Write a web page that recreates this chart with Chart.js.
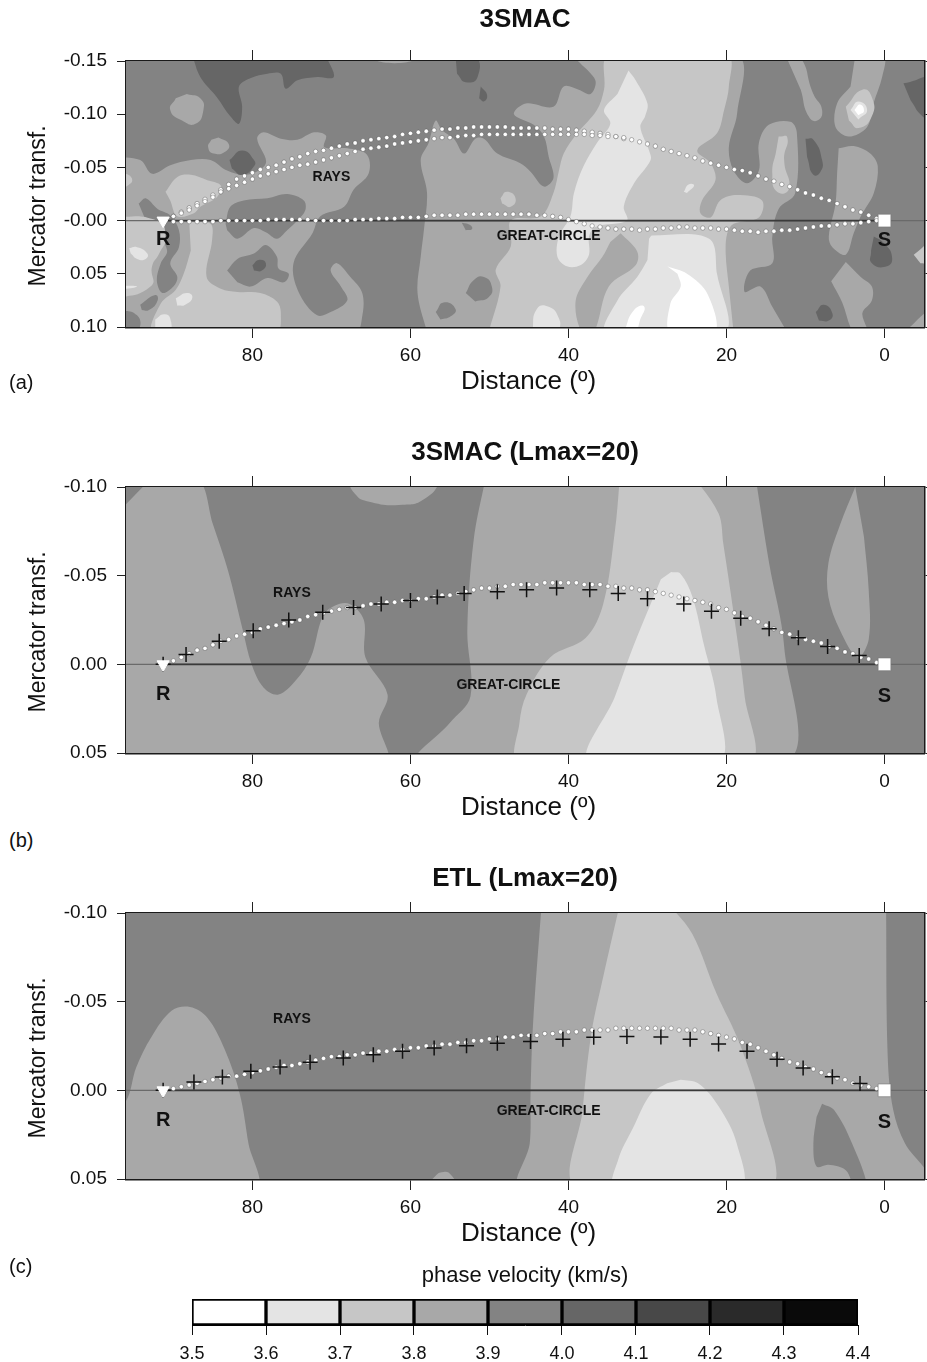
<!DOCTYPE html>
<html>
<head>
<meta charset="utf-8">
<title>phase velocity maps</title>
<script src="https://cdn.jsdelivr.net/npm/chart.js@4"></script>
<style>
  html, body { margin: 0; padding: 0; background: #fff; }
  #page { position: relative; width: 927px; height: 1362px; overflow: hidden; }
  canvas { position: absolute; left: 0; }
  .tag { position: absolute; left: 9px; font: 20px "Liberation Sans", sans-serif; color: #111; }
</style>
</head>
<body>
<div id="page">
  <canvas id="panelA" width="927" height="401" style="top:0"></canvas>
  <canvas id="panelB" width="927" height="401" style="top:426px"></canvas>
  <canvas id="panelC" width="927" height="401" style="top:852px"></canvas>
  <canvas id="colorBar" width="927" height="100" style="top:1262px"></canvas>
  <div class="tag" style="top:371px">(a)</div>
  <div class="tag" style="top:829px">(b)</div>
  <div class="tag" style="top:1255px">(c)</div>
</div>
<script>
// velocity classes of the colour bar
const bandEdges = [3.5, 3.6, 3.7, 3.8, 3.9, 4.0, 4.1, 4.2, 4.3, 4.4];
const bandColors = ['#ffffff', '#e4e4e4', '#c6c6c6', '#a8a8a8', '#838383', '#666666', '#484848', '#2a2a2a', '#0a0a0a'];
const v36 = bandColors[0], v37 = bandColors[1], v38 = bandColors[2], v39 = bandColors[3], v40 = bandColors[4], v41 = bandColors[5];

const xTicks = [80, 60, 40, 20, 0];
const yTicksA = [-0.15, -0.10, -0.05, 0, 0.05, 0.10];
const yLabelsA = ['-0.15', '-0.10', '-0.05', '-0.00', '0.05', '0.10'];
const yTicksB = [-0.10, -0.05, 0, 0.05];
const yLabelsB = ['-0.10', '-0.05', '0.00', '0.05'];

// distance of the ray samples, degrees
const rayDist = [91,90,89,88,87,86,85,84,83,82,81,80,79,78,77,76,75,74,73,72,71,70,69,68,67,66,65,64,63,62,61,60,59,58,57,56,55,54,53,52,51,50,49,48,47,46,45,44,43,42,41,40,39,38,37,36,35,34,33,32,31,30,29,28,27,26,25,24,23,22,21,20,19,18,17,16,15,14,13,12,11,10,9,8,7,6,5,4,3,2,1];

const rayA1 = [0,-.004,-.008,-.012,-.016,-.020,-.024,-.029,-.034,-.039,-.042,-.045,-.048,-.050,-.052,-.055,-.058,-.060,-.063,-.065,-.066,-.068,-.070,-.072,-.073,-.075,-.076,-.077,-.078,-.079,-.081,-.082,-.083,-.084,-.085,-.086,-.086,-.087,-.087,-.088,-.088,-.088,-.088,-.088,-.087,-.087,-.087,-.087,-.087,-.086,-.086,-.086,-.085,-.084,-.083,-.082,-.081,-.079,-.077,-.076,-.074,-.072,-.070,-.067,-.065,-.063,-.061,-.059,-.056,-.054,-.052,-.050,-.048,-.047,-.045,-.042,-.039,-.037,-.034,-.032,-.029,-.026,-.024,-.021,-.019,-.016,-.013,-.010,-.008,-.005,-.002];
const rayA2 = [0,-.004,-.007,-.010,-.014,-.018,-.022,-.027,-.030,-.033,-.036,-.039,-.042,-.044,-.046,-.048,-.050,-.052,-.053,-.055,-.057,-.059,-.061,-.063,-.065,-.067,-.068,-.069,-.070,-.072,-.073,-.074,-.075,-.076,-.077,-.078,-.078,-.079,-.080,-.080,-.081,-.081,-.081,-.081,-.081,-.081,-.081,-.081,-.081,-.081,-.081,-.081,-.081,-.081,-.080,-.080,-.079,-.079,-.078];
const rayA3 = [0,.001,.001,.001,.001,.001,.001,0,0,0,0,0,0,-.001,-.001,-.001,-.001,-.001,-.001,0,0,0,0,0,-.001,-.001,-.001,-.002,-.002,-.002,-.003,-.003,-.003,-.004,-.005,-.005,-.005,-.005,-.006,-.006,-.006,-.006,-.006,-.006,-.006,-.006,-.006,-.005,-.005,-.004,-.003,-.001,.001,.003,.005,.006,.007,.008,.008,.008,.009,.008,.008,.007,.007,.006,.006,.007,.007,.007,.008,.008,.009,.010,.010,.011,.010,.010,.009,.009,.008,.007,.006,.005,.005,.004,.003,.003,.002,.001,0];
const rayB = [0,-.002,-.004,-.006,-.008,-.009,-.011,-.013,-.014,-.016,-.017,-.018,-.020,-.021,-.022,-.023,-.024,-.025,-.027,-.028,-.029,-.030,-.031,-.032,-.032,-.033,-.034,-.034,-.035,-.035,-.036,-.036,-.037,-.037,-.038,-.039,-.039,-.040,-.041,-.042,-.043,-.043,-.044,-.044,-.045,-.045,-.045,-.045,-.046,-.046,-.046,-.046,-.046,-.045,-.045,-.045,-.044,-.044,-.043,-.043,-.042,-.042,-.041,-.040,-.039,-.038,-.037,-.036,-.035,-.034,-.032,-.031,-.029,-.027,-.026,-.024,-.022,-.020,-.018,-.017,-.015,-.014,-.013,-.012,-.010,-.009,-.007,-.006,-.004,-.003,-.001];
const rayC = [0,-.001,-.002,-.003,-.004,-.005,-.006,-.007,-.008,-.008,-.009,-.010,-.011,-.012,-.013,-.014,-.014,-.015,-.016,-.017,-.018,-.019,-.019,-.020,-.020,-.021,-.021,-.022,-.022,-.023,-.023,-.024,-.024,-.025,-.025,-.026,-.026,-.027,-.027,-.028,-.028,-.029,-.029,-.030,-.030,-.031,-.031,-.031,-.032,-.032,-.033,-.033,-.033,-.034,-.034,-.034,-.034,-.035,-.035,-.035,-.035,-.035,-.035,-.035,-.035,-.034,-.034,-.034,-.033,-.032,-.031,-.030,-.029,-.027,-.026,-.024,-.022,-.020,-.018,-.016,-.015,-.013,-.012,-.010,-.009,-.007,-.006,-.004,-.003,-.002,-.001];

// cross marks of panels b and c: distance, transf.
const crossB = [[91.3,0],[88.4,-.0056],[84.2,-.013],[79.9,-.019],[75.4,-.025],[71.1,-.0293],[67.2,-.032],[63.7,-.034],[60,-.036],[56.6,-.038],[53.2,-.040],[49,-.041],[45.3,-.042],[41.5,-.043],[37.3,-.042],[33.7,-.040],[30,-.037],[25.4,-.034],[21.9,-.030],[18.2,-.026],[14.6,-.020],[10.9,-.015],[7.2,-.010],[3.2,-.005]];
const crossC = [[91.3,0],[87.4,-.0047],[83.8,-.0075],[80.2,-.0107],[76.5,-.0132],[72.7,-.0158],[68.5,-.0182],[64.7,-.0201],[61,-.022],[57,-.0239],[52.9,-.0252],[49,-.0265],[44.8,-.0276],[40.7,-.0288],[36.8,-.0299],[32.6,-.0304],[28.3,-.0301],[24.6,-.0288],[21,-.0261],[17.4,-.022],[13.6,-.0175],[10.3,-.0126],[6.6,-.0077],[3.1,-.0038]];

// great-circle line: whole width, and the darker stretch between R and S
const zeroLine = [[96, 0], [-5, 0]];
const pathLine = [[91.3, 0], [0, 0]];

// contours of panel a, one list per class, painted in order
const a39 = [
  [[98,-.060],[94.2,-.057],[92.7,-.044],[90.4,-.052],[87.8,-.057],[85.3,-.057],[83.2,-.047],[80.7,-.043],[78.3,-.054],[79.4,-.077],[78.6,-.083],[76.4,-.077],[74.3,-.076],[72.2,-.083],[70.7,-.080],[70.9,-.069],[68,-.068],[65.5,-.062],[65.3,-.044],[67.2,-.029],[68.4,-.013],[71.4,-.004],[72.4,.012],[74.8,.040],[74.1,.068],[71.8,.089],[70.1,.086],[68,.075],[68.8,.062],[70.1,.047],[69.3,.040],[67.6,.053],[66.1,.068],[66.1,.090],[67,.105],[98,.105]],
  [[57.9,.105],[59.1,.068],[58.7,.034],[58.3,.009],[57.9,-.026],[58.7,-.057],[57.7,-.073],[56.8,-.094],[56,-.085],[54.5,-.077],[53.2,-.063],[51.8,-.077],[50.7,-.077],[49,-.063],[46.1,-.054],[44.8,-.046],[43.1,-.032],[41.9,-.040],[42.5,-.060],[43.1,-.079],[44.4,-.090],[46.9,-.100],[45.4,-.110],[41.9,-.107],[40.6,-.126],[38.7,-.123],[37.2,-.119],[36.6,-.132],[38.9,-.155],[18.65,-.155],[18.65,-.101],[19.7,-.069],[19.1,-.047],[17.4,-.035],[15.9,-.047],[15.9,-.073],[14.65,-.090],[11.9,-.093],[11.1,-.083],[11.3,-.026],[13.4,-.011],[14.2,.015],[14.2,.040],[17,.047],[17.7,.067],[15.7,.062],[14.2,.081],[12.3,.105]],
  [[88.3,-.119],[86.6,-.115],[86.2,-.104],[87.2,-.091],[88.9,-.094],[90.4,-.104],[89.7,-.115]],
  [[84.3,-.078],[83,-.072],[83.4,-.065],[84.9,-.063],[85.6,-.069],[85.2,-.076]],
  [[65.5,-.152],[62,-.148],[58.5,-.152]],
  [[12.5,-.155],[10.8,-.155],[9,-.119],[7.9,-.104],[8.5,-.094],[9.6,-.098],[10.6,-.123]],
  [[3.7,-.155],[.1,-.155],[.3,-.135],[1.4,-.110],[2.2,-.088],[4.5,-.079],[6.2,-.088],[6,-.110],[4.3,-.126]],
  [[5.8,-.068],[3.9,-.070],[1.8,-.063],[.85,-.051],[1.35,-.026],[3,-.004],[3.9,.012],[4.9,.032],[6.6,.025],[7.05,.015],[6.2,-.016],[6,-.044]],
  [[4.9,.039],[3,.053],[1.6,.062],[1.6,.075],[2.8,.087],[2.2,.105],[3.9,.105],[5.35,.077],[6.75,.057]],
  [[-2.4,.105],[-6,.085],[-6,.105]]
];
const a40 = [
  [[83.4,.003],[82.8,-.013],[81.1,-.019],[78.1,-.021],[75.6,-.025],[73.5,-.019],[73.3,-.010],[74.3,0],[75.6,.009],[76.9,.017],[78.3,.011],[79.8,.007],[81.9,.017],[83.2,.009]],
  [[83.2,.047],[81.9,.036],[79.8,.031],[78.3,.023],[76.9,.034],[76.7,.045],[75.4,.050],[76,.058],[78.1,.054],[80.2,.062],[81.9,.058]],
  [[94.4,-.016],[93.5,-.021],[92,-.011],[90.4,-.005],[89.3,.009],[89.3,.025],[90.4,.040],[89.5,.053],[90,.062],[91.4,.068],[92.1,.056],[91.6,.040],[90.8,.028],[92.3,.009],[93.5,0]],
  [[53,.068],[52,.056],[50.7,.053],[49.7,.062],[50.1,.072],[51.8,.076]],
  [[56.8,.086],[55.8,.077],[54.3,.083],[54.9,.090],[56.2,.093]],
  [[53.5,.002],[52.5,.004],[52.2,.008],[53,.009]]
];
const a38 = [
  [[91,-.027],[89.5,-.041],[87.8,-.043],[85.7,-.038],[84,-.033],[84.5,-.022],[86.6,-.013],[87.4,-.007],[89.5,-.004],[90.4,-.019]],
  [[88,.001],[85.3,.003],[85.1,.018],[85.8,.053],[84,.064],[81.9,.067],[79,.068],[76.9,.076],[76.4,.087],[77,.105],[92.5,.105],[91.6,.078],[89.7,.065],[88.7,.050],[87.8,.028]],
  [[98,-.004],[92.1,0],[91,.015],[91.8,.031],[92.7,.043],[92.9,.062],[98,.075]],
  [[98,-.045],[95.7,-.043],[95.4,-.035],[98,-.028]],
  [[48.6,-.021],[47.8,-.027],[46.7,-.021],[47.3,-.013],[48.4,-.016]],
  [[50.1,.105],[48.6,.062],[49.2,.046],[47.3,.024],[47.3,0],[43.5,-.004],[41.9,-.026],[41.2,-.047],[40.6,-.063],[38.9,-.082],[36.4,-.104],[35.5,-.123],[34.9,-.155],[19.9,-.155],[19.7,-.126],[20.3,-.104],[21.2,-.082],[23.7,-.066],[22,-.054],[21.4,-.038],[23.1,-.019],[23.3,-.007],[22,-.003],[20.8,-.019],[18.65,-.024],[15.5,-.019],[15.9,-.003],[19.1,.003],[19.9,.012],[20.1,.031],[19.7,.062],[19.1,.105]],
  [[13.4,-.079],[12.3,-.078],[12.7,-.057],[12.1,-.030],[13.6,-.027],[14.2,-.044],[13.7,-.066]],
  [[4.9,-.107],[2.8,-.123],[1.6,-.116],[1.6,-.098],[3.3,-.087],[4.5,-.094]],
  [[-3.7,.032],[-6,.021],[-6,.040],[-4.55,.040]]
];
const a39b = [
  [[33.4,.012],[31.3,.029],[31.5,.042],[34.9,.062],[36.8,.105],[38.3,.105],[39.1,.076],[37.6,.053],[35.7,.034],[34.7,.020]]
];
const a40b = [
  [[94.2,.079],[92.3,.070],[92,.075],[93.1,.084],[94,.084]],
  [[98,.084],[94.6,.089],[94.8,.105],[98,.105]]
];
const a37 = [
  [[32.4,-.141],[31.5,-.132],[30,-.110],[30.3,-.098],[30.9,-.088],[29.8,-.066],[29.6,-.057],[31.7,-.035],[33,-.013],[32.6,0],[36.6,.006],[37.4,.015],[37.4,.032],[38.5,.042],[40.2,.043],[41.4,.034],[41.2,.015],[39.75,-.004],[39.3,-.026],[38.1,-.051],[36.4,-.073],[34.7,-.091],[35.5,-.104],[33.8,-.119]],
  [[25.4,-.027],[24.8,-.034],[24.1,-.033],[25,-.026]],
  [[29.8,.017],[29.4,.014],[22.2,.017],[21.2,.050],[20.3,.105],[35.2,.105],[33.8,.075],[31.3,.053],[30,.037]],
  [[44.6,.105],[44,.083],[42.5,.081],[41.2,.092],[41.1,.105]],
  [[4.3,-.104],[3.3,-.112],[2.2,-.104],[3.3,-.095]],
  [[95.6,.026],[94.6,.025],[93.3,.031],[93.5,.036],[94.6,.036],[95.4,.031]],
  [[98,.061],[94.6,.062],[98,.066]],
  [[89.7,.073],[88.3,.068],[87.6,.072],[88.5,.079],[89.5,.080]],
  [[92.3,.093],[91.2,.088],[90.4,.092],[90.6,.105],[92.3,.105]]
];
const a36 = [
  [[27.5,.043],[25,.050],[22.4,.069],[21.5,.105],[27.1,.105],[27.1,.078],[25.8,.062],[26.2,.050]],
  [[33,.105],[31.7,.084],[30.4,.081],[31,.095],[31.3,.105]],
  [[3.8,-.104],[3.1,-.109],[2.6,-.103],[3.3,-.099]]
];
const a41 = [
  [[87.6,-.155],[86.6,-.135],[84.5,-.116],[82.8,-.098],[81.7,-.091],[81.3,-.107],[81.7,-.126],[80.2,-.134],[78.1,-.138],[76.4,-.138],[75.8,-.124],[74.3,-.132],[71.8,-.135],[69.7,-.135],[70.7,-.155]],
  [[54.3,-.155],[51.8,-.155],[51.5,-.135],[53,-.130],[54.1,-.138]],
  [[51.1,-.126],[50.3,-.118],[50.7,-.112],[51.3,-.115]],
  [[82.9,-.057],[81.3,-.066],[79.8,-.057],[79.8,-.051],[81.3,-.043],[82.6,-.049]],
  [[80,.042],[79.2,.037],[78.3,.040],[78.8,.047],[79.8,.047]],
  [[10,-.077],[9,-.076],[7.9,-.057],[8.1,-.046],[9,-.043],[9.8,-.060]],
  [[-2.4,-.129],[-6,-.132],[-6,-.095],[-4.8,-.098],[-3.3,-.113]],
  [[1.35,.015],[.1,.021],[-.95,.034],[-.3,.043],[1.6,.040],[1.7,.028]],
  [[8.7,.086],[7.7,.079],[6.6,.087],[7.05,.094],[8.3,.094]]
];

// contours of panel b
const b39 = [
  [[92.8,-.105],[87,-.105],[85,-.079],[83.1,-.053],[81.2,-.019],[80.1,0],[78.6,.013],[76.7,.017],[74.5,.009],[72.6,-.004],[71.1,-.027],[69.6,-.033],[67.7,-.034],[65.9,-.025],[65.7,-.004],[62.9,.017],[64,.033],[63.2,.055],[98,.055],[98,-.081]],
  [[68.1,-.105],[67,-.096],[65.5,-.092],[61,-.090],[58,-.094],[55.8,-.105]],
  [[50.5,-.105],[52,-.070],[52.8,-.019],[52.4,.018],[55,.033],[59.1,.055],[12.7,.055],[12.7,-.010],[14.6,-.057],[16.3,-.105]],
  [[3.7,-.100],[5.6,-.079],[7.1,-.057],[7.1,-.038],[5.6,-.019],[3.4,-.004],[2,-.014],[2,-.042],[2.6,-.072]]
];
const b38 = [
  [[33.5,-.105],[34.1,-.076],[35.6,-.034],[37.8,-.015],[42.3,-.004],[45.3,.017],[46.2,.033],[46.2,.055],[17.2,.055],[17.7,.018],[19.1,-.029],[20.4,-.068],[21,-.085],[24,-.105]]
];
const b37 = [
  [[27,-.052],[25.8,-.051],[24.3,-.038],[22.8,-.010],[21.3,.018],[21,.055],[37.4,.055],[34.1,.018],[31.8,-.010],[29.6,-.034],[28.3,-.048]]
];

// contours of panel c
const c39 = [
  [[98,.011],[96,.006],[94.7,-.013],[92.8,-.030],[90.2,-.045],[87.9,-.047],[85.7,-.041],[83.5,-.023],[81.6,.002],[80.5,.030],[79.6,.055],[98,.055]],
  [[57.8,.055],[57,.049],[55.8,.046],[54.8,.048],[54,.055]],
  [[43.4,-.105],[44.5,-.036],[44.8,.002],[44.9,.030],[46,.055],[-6,.055],[-6,.05],[-4.9,.043],[-2.6,.030],[-1.1,.011],[-.4,-.02],[-.2,-.105]]
];
const c38 = [
  [[33.5,-.105],[35.6,-.064],[37.1,-.032],[38.2,.011],[38.9,.055],[14.6,.055],[15.7,.011],[18.3,-.026],[21.3,-.055],[24.3,-.088],[27.3,-.105]]
];
const c37 = [
  [[25.8,-.006],[23.6,-.004],[21,.009],[18.7,.030],[18.3,.055],[34.1,.055],[33.7,.039],[31.8,.021],[29.6,.002],[27.5,-.004]]
];
const c40 = [
  [[7.9,.0075],[6.4,.011],[4.1,.030],[2.2,.055],[3.7,.055],[4.9,.045],[7.1,.042],[8.6,.043],[9,.030],[8.6,.015]]
];

const labelsA = [['RAYS',70,-.041,14],['GREAT-CIRCLE',42.5,.0146,14],['R',91.3,.0174,20],['S',0,.0183,20]];
const labelsB = [['RAYS',75,-.040,14],['GREAT-CIRCLE',47.6,.0118,14],['R',91.3,.0169,20],['S',0,.018,20]];
const labelsC = [['RAYS',75,-.040,14],['GREAT-CIRCLE',42.5,.0118,14],['R',91.3,.0169,20],['S',0,.018,20]];

const fontName = '"Liberation Sans", Arial, sans-serif';

// plot background, the 3.9-4.0 class
const backPlugin = {
  id: 'back',
  beforeDatasetsDraw(chart) {
    const a = chart.chartArea;
    chart.ctx.fillStyle = v40;
    chart.ctx.fillRect(a.left, a.top, a.right - a.left, a.bottom - a.top);
  }
};

// words written inside the plot, and the two axis names
const wordsPlugin = {
  id: 'words',
  afterDatasetsDraw(chart, args, opts) {
    const ctx = chart.ctx;
    ctx.save();
    ctx.textAlign = 'center';
    ctx.textBaseline = 'middle';
    ctx.fillStyle = '#111';
    opts.items.forEach(w => {
      ctx.font = 'bold ' + w[3] + 'px ' + fontName;
      ctx.fillText(w[0], chart.scales.x.getPixelForValue(w[1]), chart.scales.y.getPixelForValue(w[2]));
    });
    ctx.font = '26px ' + fontName;
    ctx.fillText('Distance (º)', 528.5, 382);
    ctx.translate(39, 206);
    ctx.rotate(-Math.PI / 2);
    ctx.font = '23px ' + fontName;
    ctx.fillText('Mercator transf.', 0, 0);
    ctx.restore();
  }
};

function contours(list, color) {
  return list.map(poly => ({
    type: 'scatter', data: poly, showLine: true, fill: 'shape', tension: poly.length < 8 ? 0.55 : 0.35,
    backgroundColor: color, borderWidth: 0, pointRadius: 0
  }));
}

function rays(values) {
  return {
    data: values.map((v, i) => [rayDist[i], v]), showLine: false, pointRadius: 2.2,
    pointBackgroundColor: '#fff', pointBorderColor: 'rgba(50,50,50,0.6)', pointBorderWidth: 0.6
  };
}

function crosses(points) {
  return { data: points, showLine: false, pointStyle: 'cross', pointRadius: 7.5, pointBorderColor: '#111', pointBorderWidth: 1.5 };
}

function sideAxis(position, fit, vals, range, len, extra) {
  const axis = {
    type: 'linear', position: position, reverse: true, min: range[0], max: range[1],
    afterBuildTicks: s => { s.ticks = vals.map(v => ({ value: v })); },
    afterFit: s => {
      if (s.isHorizontal()) { s.height = fit; } else { s.width = fit; }
      s.paddingLeft = s.paddingRight = s.paddingTop = s.paddingBottom = 0;
    },
    border: { display: true, color: '#1a1a1a', width: 2.5 },
    grid: { drawOnChartArea: false, tickLength: len, color: '#222', tickWidth: 1 },
    ticks: { display: false }
  };
  return Object.assign(axis, extra || {});
}

function panel(id, cfg) {
  const yRange = [cfg.yTicks[0], cfg.yTicks[cfg.yTicks.length - 1]];
  const xRange = [-5, 96];
  let sets = [];
  cfg.layers.forEach(l => { sets = sets.concat(contours(l[0], l[1])); });
  sets.push({ data: zeroLine, showLine: true, borderColor: '#6a6a6a', borderWidth: 1.2, pointRadius: 0 });
  sets.push({ data: pathLine, showLine: true, borderColor: '#3a3a3a', borderWidth: 1.6, pointRadius: 0 });
  cfg.marks.forEach(m => sets.push(m));
  sets.push({ data: [[91.3, 0]], showLine: false, pointStyle: 'triangle', rotation: 180, pointRadius: 7, pointBackgroundColor: '#fff', pointBorderColor: '#fff' });
  sets.push({ data: [[0, 0]], showLine: false, pointStyle: 'rect', pointRadius: 9, pointBackgroundColor: '#fff', pointBorderColor: '#777', pointBorderWidth: 0.6 });
  sets.forEach((s, i) => { s.order = sets.length - i; });

  new Chart(document.getElementById(id), {
    type: 'scatter',
    data: { datasets: sets },
    plugins: [backPlugin, wordsPlugin],
    options: {
      responsive: false,
      animation: false,
      layout: { padding: 0, autoPadding: false },
      plugins: {
        legend: { display: false },
        tooltip: { enabled: false },
        title: {
          display: true, text: cfg.title, fullSize: false, color: '#111',
          font: { family: fontName, size: 26, weight: 'bold' },
          padding: { top: cfg.titleTop, bottom: 0 }
        },
        words: { items: cfg.words }
      },
      scales: {
        x: sideAxis('bottom', 74, xTicks, xRange, 11, {
          ticks: { color: '#111', font: { family: fontName, size: 19 }, padding: 6, maxRotation: 0, autoSkip: false, callback: v => String(v) }
        }),
        x2: sideAxis('top', 61 - 31.2 - cfg.titleTop, xTicks, xRange, 11),
        y: sideAxis('left', 126, cfg.yTicks, yRange, 9, {
          ticks: { color: '#111', font: { family: fontName, size: 19 }, padding: 10, autoSkip: false,
            callback: (v, i) => cfg.yLabels[i] }
        }),
        y2: sideAxis('right', 3, cfg.yTicks, yRange, 3)
      }
    }
  });
}

panel('panelA', {
  title: '3SMAC', titleTop: 4, yTicks: yTicksA, yLabels: yLabelsA, words: labelsA,
  layers: [[a39, v39], [a40, v40], [a38, v38], [a39b, v39], [a40b, v40], [a37, v37], [a36, v36], [a41, v41]],
  marks: [rays(rayA1), rays(rayA2), rays(rayA3)]
});
panel('panelB', {
  title: '3SMAC (Lmax=20)', titleTop: 11, yTicks: yTicksB, yLabels: yLabelsB, words: labelsB,
  layers: [[b39, v39], [b38, v38], [b37, v37]],
  marks: [rays(rayB), crosses(crossB)]
});
panel('panelC', {
  title: 'ETL (Lmax=20)', titleTop: 11, yTicks: yTicksB, yLabels: yLabelsB, words: labelsC,
  layers: [[c39, v39], [c38, v38], [c37, v37], [c40, v40]],
  marks: [rays(rayC), crosses(crossC)]
});

// colour bar: one floating bar per velocity class
new Chart(document.getElementById('colorBar'), {
  type: 'bar',
  data: {
    labels: [''],
    datasets: bandColors.map((c, i) => ({
      data: [[bandEdges[i], bandEdges[i + 1]]], backgroundColor: c, borderColor: '#000',
      borderWidth: 2, borderSkipped: false, barPercentage: 1, categoryPercentage: 1, grouped: false
    }))
  },
  options: {
    indexAxis: 'y',
    responsive: false,
    animation: false,
    layout: { padding: { right: 69 } },
    plugins: {
      legend: { display: false },
      tooltip: { enabled: false },
      title: {
        display: true, text: 'phase velocity (km/s)', fullSize: false, color: '#111',
        font: { family: fontName, size: 22, weight: 'normal' }, padding: { top: 1, bottom: 9.6 }
      }
    },
    scales: {
      x: {
        type: 'linear', min: 3.5, max: 4.4,
        afterBuildTicks: s => { s.ticks = bandEdges.map(v => ({ value: v })); },
        afterFit: s => { s.height = 37; s.paddingLeft = s.paddingRight = 0; },
        border: { display: true, color: '#000', width: 1 },
        grid: { drawOnChartArea: false, tickLength: 10, color: '#111' },
        ticks: { color: '#111', font: { family: fontName, size: 18 }, padding: 8, maxRotation: 0, autoSkip: false, callback: v => v.toFixed(1) }
      },
      y: {
        afterFit: s => { s.width = 192; },
        border: { display: false },
        grid: { display: false },
        ticks: { display: false }
      }
    }
  }
});
</script>
</body>
</html>
